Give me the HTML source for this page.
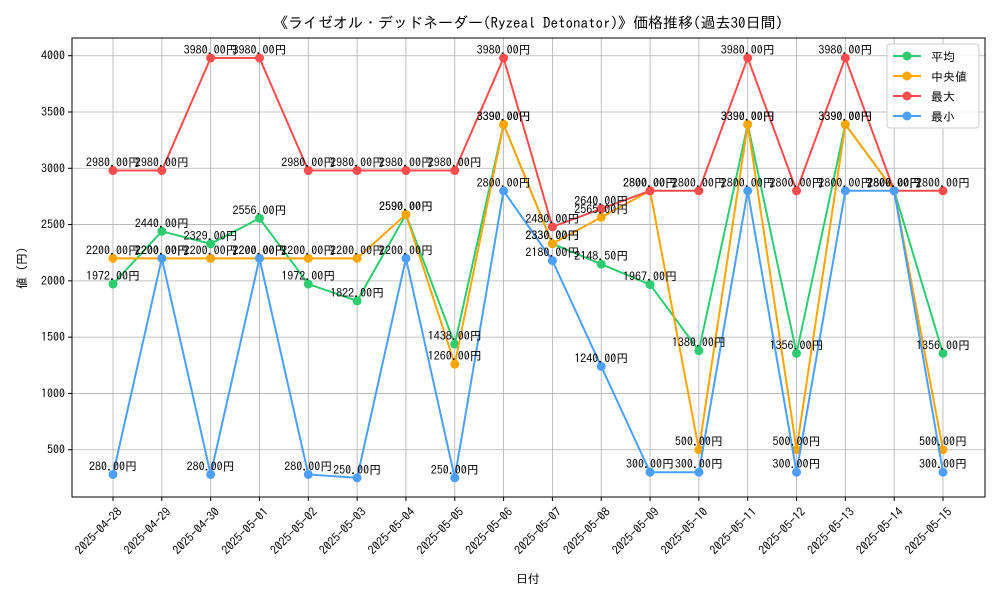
<!DOCTYPE html>
<html><head><meta charset="utf-8"><style>
body{margin:0;background:#fff}
svg{font-family:"IPAGothic","Noto Sans CJK JP","Liberation Sans",sans-serif}
</style></head><body>
<svg id="c" width="1000" height="600" xmlns="http://www.w3.org/2000/svg"></svg>
<script>
const dates=["2025-04-28","2025-04-29","2025-04-30","2025-05-01","2025-05-02","2025-05-03","2025-05-04","2025-05-05","2025-05-06","2025-05-07","2025-05-08","2025-05-09","2025-05-10","2025-05-11","2025-05-12","2025-05-13","2025-05-14","2025-05-15"];
const avgVals=[1972,2440,2329,2556,1972,1822,2590,1438,3390,2330,2148.5,1967,1380,3390,1356,3390,2800,1356];
const medVals=[2200,2200,2200,2200,2200,2200,2590,1260,3390,2330,2565,2800,500,3390,500,3390,2800,500];
const maxVals=[2980,2980,3980,3980,2980,2980,2980,2980,3980,2480,2640,2800,2800,3980,2800,3980,2800,2800];
const minVals=[280,2200,280,2200,280,250,2200,250,2800,2180,1240,300,300,2800,300,2800,2800,300];
const yTicks=[500,1000,1500,2000,2500,3000,3500,4000];
const seriesNames=["平均","中央値","最大","最小"];
const colors=["#2ecc71","#ffa500","#ff4d4d","#4d9fff"];
const svg=document.getElementById('c');const NS="http://www.w3.org/2000/svg";
function el(t,a,p){const e=document.createElementNS(NS,t);for(const k in a)e.setAttribute(k,a[k]);(p||svg).appendChild(e);return e;}
const L=72,R=985,T=38,B=497;
const x=i=>113+i*(943-113)/(dates.length-1);
const y=v=>506-v*(394/3500);
el('rect',{x:0,y:0,width:1000,height:600,fill:'#fff'});
const grid=el('g',{});
dates.forEach((d,i)=>{el('line',{x1:x(i),x2:x(i),y1:T,y2:B,stroke:'#b0b0b0','stroke-width':0.8},grid);
 el('line',{x1:x(i),x2:x(i),y1:B,y2:B+4,stroke:'#000'},grid);
 const t=el('text',{x:x(i)+4,y:B+10,'font-size':12,'text-anchor':'end',transform:`rotate(-45 ${x(i)+4} ${B+10})`,'dominant-baseline':'hanging'});t.textContent=d;
 });
yTicks.forEach(v=>{el('line',{x1:L,x2:R,y1:y(v),y2:y(v),stroke:'#b0b0b0','stroke-width':0.8},grid);
 el('line',{x1:L-4,x2:L,y1:y(v),y2:y(v),stroke:'#000'},grid);
 const t=el('text',{x:L-7,y:y(v)+4,'font-size':12,'text-anchor':'end'});t.textContent=v;
 });
const frame=el('rect',{x:L,y:T,width:R-L,height:B-T,fill:'none',stroke:'#000','stroke-width':1});

[avgVals,medVals,maxVals,minVals].forEach((vals,s)=>{
 const g=el('g',{});
 el('polyline',{points:vals.map((v,i)=>x(i)+','+y(v)).join(' '),fill:'none',stroke:colors[s],'stroke-width':2},g);
 vals.forEach((v,i)=>{const c=el('circle',{cx:x(i),cy:y(v),r:4.5,fill:colors[s]},g);
  });
});
[avgVals,medVals,maxVals,minVals].forEach((vals,s)=>{vals.forEach((v,i)=>{
 const t=el('text',{x:x(i),y:y(v)-4,'font-size':12,'text-anchor':'middle'});t.textContent=v.toFixed(2)+'円';
 });});
const title=el('text',{x:528,y:28,'font-size':15,'text-anchor':'middle'});title.textContent='《ライゼオル・デッドネーダー(Ryzeal Detonator)》価格推移(過去30日間)';

const xt=el('text',{x:528,y:583,'font-size':12,'text-anchor':'middle'});xt.textContent='日付';

const yt=el('text',{x:26,y:268,'font-size':12,'text-anchor':'middle',transform:'rotate(-90 26 268)'});yt.textContent='値 (円)';

const lg=el('g',{});
el('rect',{x:887,y:44,width:92,height:84,fill:'#fff','fill-opacity':0.85,stroke:'#ccc',rx:3},lg);
seriesNames.forEach((n,s)=>{const yy=56+s*20;
 el('line',{x1:893,x2:921,y1:yy,y2:yy,stroke:colors[s],'stroke-width':2},lg);
 el('circle',{cx:907,cy:yy,r:4.5,fill:colors[s]},lg);
 const t=el('text',{x:931,y:yy+5,'font-size':12},lg);t.textContent=n;
 });
</script></body></html>
